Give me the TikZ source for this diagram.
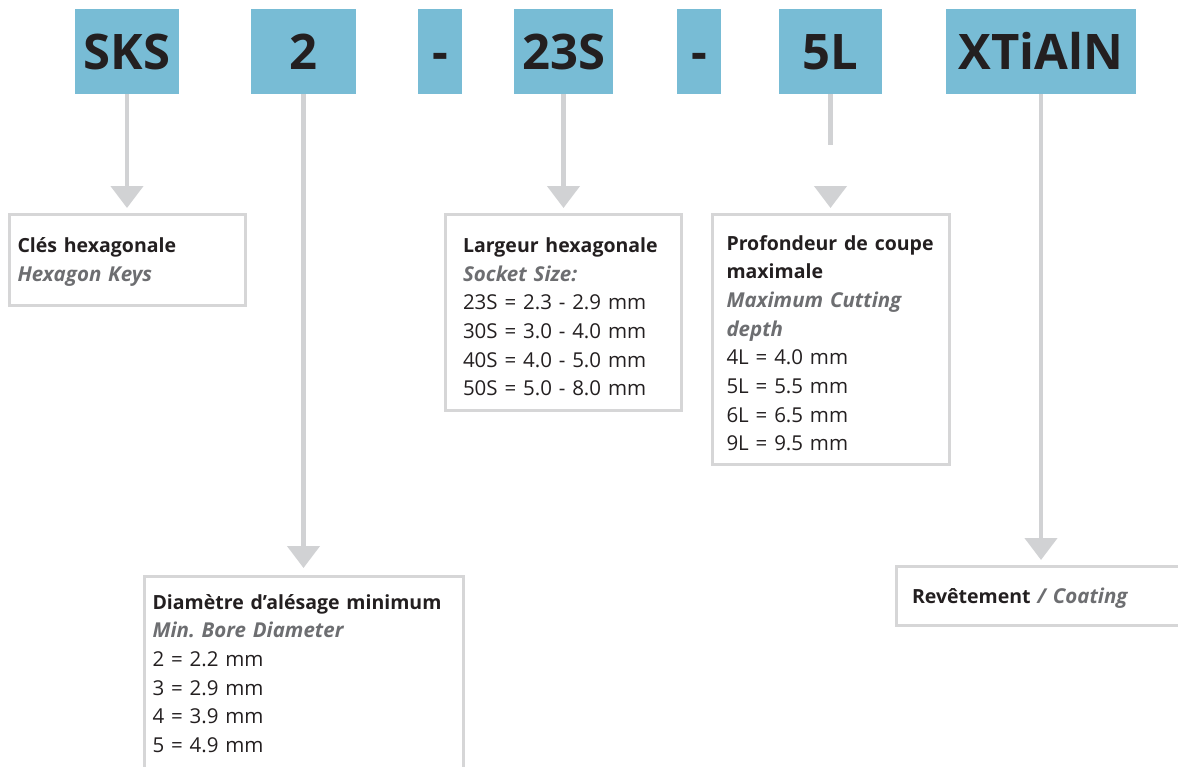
\documentclass[tikz,border=0pt]{standalone}
\usepackage{fontspec}
\setmainfont{Open Sans}
\usepackage{tikz}
\usetikzlibrary{arrows.meta, positioning}
\definecolor{cCode}{RGB}{120,188,213}
\definecolor{cLine}{RGB}{209,210,212}
\definecolor{cFrame}{RGB}{214,214,215}
\definecolor{cInk}{RGB}{35,31,32}
\definecolor{cSub}{RGB}{109,110,113}
\frenchspacing
\newcommand{\ttl}[1]{\mbox{\fontsize{19.5}{28.7}\selectfont\bfseries #1}}
\newcommand{\en}[1]{\mbox{\color{cSub}\bfseries\itshape #1}}
\newcommand{\topgap}[1]{\rule{0pt}{#1pt}}
\newcommand{\botgap}[1]{\rule[-#1pt]{0pt}{#1pt}}
\tikzset{
	codebox/.style={rectangle, fill=cCode, text=cInk, minimum height=85pt, inner sep=0pt, outer sep=0pt, text height=36pt, text depth=0pt, font=\fontsize{49}{50}\selectfont\bfseries},
	infobox/.style={rectangle, draw=cFrame, line width=3pt, align=left, inner ysep=0pt, text=cInk},
	% connectors
	conn/.style={draw=cLine, line width=4.5pt, -{Triangle[width=32pt, length=22pt]}, shorten >=5pt},
	stub/.style={draw=cLine, line width=4.5pt},
}
\begin{document}
\begin{tikzpicture}[x=1pt, y=-1pt, every node/.style={font=\fontsize{20.5}{28.7}\selectfont}]
	\useasboundingbox (0,0) rectangle (1178,766);
	\clip (0,0) rectangle (1178,766);
	\node[codebox, minimum width=104pt] (sks) at (127,51.5) {SKS};
	\node[codebox, minimum width=105pt] (bore) at (303.5,51.5) {2};
	\node[codebox, minimum width=44pt] (dash1) at (440,51.5) {-};
	\node[codebox, minimum width=99pt] (sock) at (563.5,51.5) {23S};
	\node[codebox, minimum width=44pt] (dash2) at (699,51.5) {-};
	\node[codebox, minimum width=103pt] (cut) at (830.5,51.5) {5L};
	\node[codebox, minimum width=190pt] (coat) at (1041,51.5) {XTiAlN};
	\node[infobox, below=119pt of sks, inner xsep=8.5pt, text width=219pt] (sksInfo)
		{\topgap{37.8}\ttl{Clés hexagonale}\\ \en{Hexagon Keys}\botgap{24.8}};
	\node[infobox, below=119pt of sock, inner xsep=17.5pt, text width=201pt] (sockInfo)
		{\topgap{37.8}\ttl{Largeur hexagonale}\\ \en{Socket Size:}\\ 23S = 2.3 - 2.9 mm\\ 30S = 3.0 - 4.0 mm\\ 40S = 4.0 - 5.0 mm\\ 50S = 5.0 - 8.0 mm\botgap{14.8}};
	\node[infobox, below=119pt of cut, inner xsep=14.5pt, text width=208pt] (cutInfo)
		{\topgap{35.5}\ttl{Profondeur de coupe}\\ \ttl{maximale}\\ \en{Maximum Cutting}\\ \en{depth}\\ 4L = 4.0 mm\\ 5L = 5.5 mm\\ 6L = 6.5 mm\\ 9L = 9.5 mm\botgap{13.5}};
	\node[infobox, below=481pt of bore, inner xsep=8.5pt, text width=302pt] (boreInfo)
		{\topgap{32.5}\ttl{Diamètre d’alésage minimum}\\ \en{Min. Bore Diameter}\\ 2 = 2.2 mm\\ 3 = 2.9 mm\\ 4 = 3.9 mm\\ 5 = 4.9 mm\botgap{20}};
	\node[infobox, below=471pt of coat, inner xsep=15.5pt, text width=258pt] (coatInfo)
		{\topgap{36.8}\ttl{Revêtement} \en{/ Coating}\botgap{21.9}};
	\foreach \a/\b in {sks/sksInfo, sock/sockInfo, coat/coatInfo} \draw[conn] (\a.south) -- (\b.north);
	\draw[conn, shorten >=7pt] (bore.south) -- (boreInfo.north);
	\coordinate[below=51pt of cut] (cutEnd);
	\coordinate[below=92pt of cut] (cutRes);
	\draw[stub] (cut.south) -- (cutEnd);
	\draw[conn] (cutRes) -- (cutInfo.north);
\end{tikzpicture}
\end{document}
